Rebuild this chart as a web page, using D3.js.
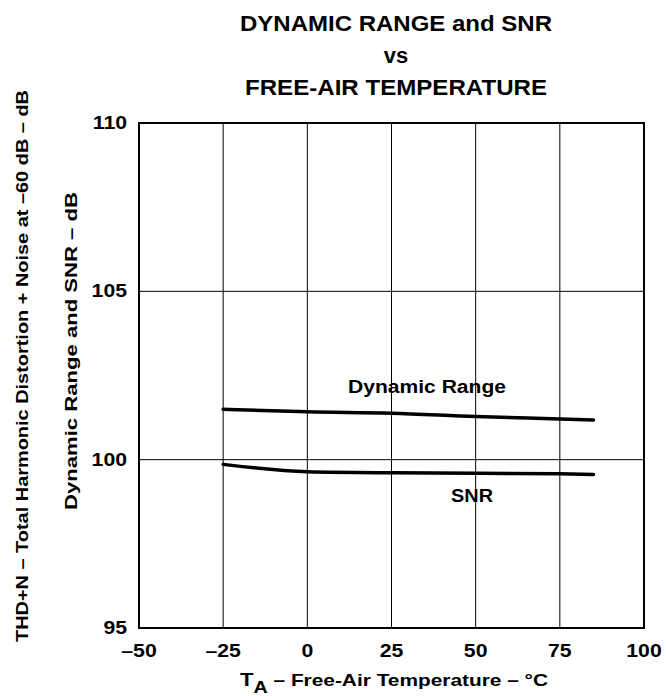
<!DOCTYPE html>
<meta charset="utf-8">
<style>
body { margin: 0; background: #fff; }
text { font-family: "Liberation Sans", Arial, sans-serif; font-weight: bold; fill: #000; }
</style>
<svg width="666" height="696"></svg>
<script src="https://d3js.org/d3.v7.min.js"></script>
<script>

// temperature points (°C)
var temps = [-25, 0, 25, 50, 75, 85];
// dynamic range (dB)
var dynRange = [101.50, 101.42, 101.38, 101.28, 101.21, 101.18];
// SNR (dB)
var snr = [99.86, 99.64, 99.61, 99.60, 99.58, 99.56];

var xTicks = [-50, -25, 0, 25, 50, 75, 100];
var yTicks = [95, 100, 105, 110];

var svg = d3.select("svg");
var plotLeft = 139, plotRight = 644, plotTop = 123, plotBottom = 628;

var x = d3.scaleLinear().domain([-50, 100]).range([plotLeft, plotRight]);
var y = d3.scaleLinear().domain([95, 110]).range([plotBottom, plotTop]);

// the original lettering is a bit wider than Liberation Sans, so stretch it
function label(px, py, size, str, len, rotate) {
  var t = svg.append("text")
    .attr("transform", "translate(" + px + "," + py + ")" + (rotate ? " rotate(-90)" : ""))
    .attr("text-anchor", "middle")
    .style("font-size", size + "px")
    .text(str);
  if (len) t.attr("textLength", len).attr("lengthAdjust", "spacingAndGlyphs");
  return t;
}

/************* GRID ***************/
svg.append("g").selectAll("line")
  .data(xTicks.slice(1, -1))
  .enter().append("line")
    .attr("x1", function(d) { return x(d); })
    .attr("x2", function(d) { return x(d); })
    .attr("y1", plotTop).attr("y2", plotBottom)
    .attr("stroke", "#000").attr("stroke-width", 1);

svg.append("g").selectAll("line")
  .data(yTicks.slice(1, -1))
  .enter().append("line")
    .attr("y1", function(d) { return y(d); })
    .attr("y2", function(d) { return y(d); })
    .attr("x1", plotLeft).attr("x2", plotRight)
    .attr("stroke", "#000").attr("stroke-width", 1);

svg.append("rect")
  .attr("x", plotLeft).attr("y", plotTop)
  .attr("width", plotRight - plotLeft).attr("height", plotBottom - plotTop)
  .attr("fill", "none").attr("stroke", "#000").attr("stroke-width", 2);

/************* TICK LABELS ***************/
svg.append("g").selectAll("text")
  .data(xTicks)
  .enter().append("text")
    .attr("transform", function(d) { return "translate(" + x(d) + "," + (plotBottom + 29) + ") scale(1.18,1)"; })
    .attr("text-anchor", "middle")
    .style("font-size", "18px")
    .text(function(d) { return d < 0 ? "\u2013" + Math.abs(d) : d; });

svg.append("g").selectAll("text")
  .data(yTicks)
  .enter().append("text")
    .attr("transform", function(d) { return "translate(" + (plotLeft - 12) + "," + (y(d) + 6) + ") scale(1.18,1)"; })
    .attr("text-anchor", "end")
    .style("font-size", "18px")
    .text(function(d) { return d; });

/************* CURVES ***************/
var line = d3.line()
  .x(function(d) { return x(d[0]); })
  .y(function(d) { return y(d[1]); })
  .curve(d3.curveMonotoneX);

[dynRange, snr].forEach(function(s) {
  svg.append("path")
    .datum(temps.map(function(t, i) { return [t, s[i]]; }))
    .attr("d", line)
    .attr("fill", "none")
    .attr("stroke", "#000")
    .attr("stroke-width", 3.5)
    .attr("stroke-linecap", "round");
});

label(427, 393, 18, "Dynamic Range", 158);
label(472, 502, 18, "SNR", 42);

/************* TITLES ***************/
label(396, 31, 22, "DYNAMIC RANGE and SNR", 312);
label(396, 63, 22, "vs", 0);
label(396, 95, 22, "FREE-AIR TEMPERATURE", 302);

var xl = svg.append("text")
  .attr("transform", "translate(394,686)")
  .attr("text-anchor", "middle")
  .attr("textLength", 308).attr("lengthAdjust", "spacingAndGlyphs")
  .style("font-size", "17px");
xl.append("tspan").style("font-size", "18px").text("T");
xl.append("tspan").attr("dy", 7).style("font-size", "16px").text("A");
xl.append("tspan").attr("dy", -7).text(" \u2013 Free-Air Temperature \u2013 \u00B0C");

label(77, 351, 17, "Dynamic Range and SNR \u2013 dB", 318, true);
label(28, 366, 17, "THD+N \u2013 Total Harmonic Distortion + Noise at \u201360 dB \u2013 dB", 552, true);

</script>
